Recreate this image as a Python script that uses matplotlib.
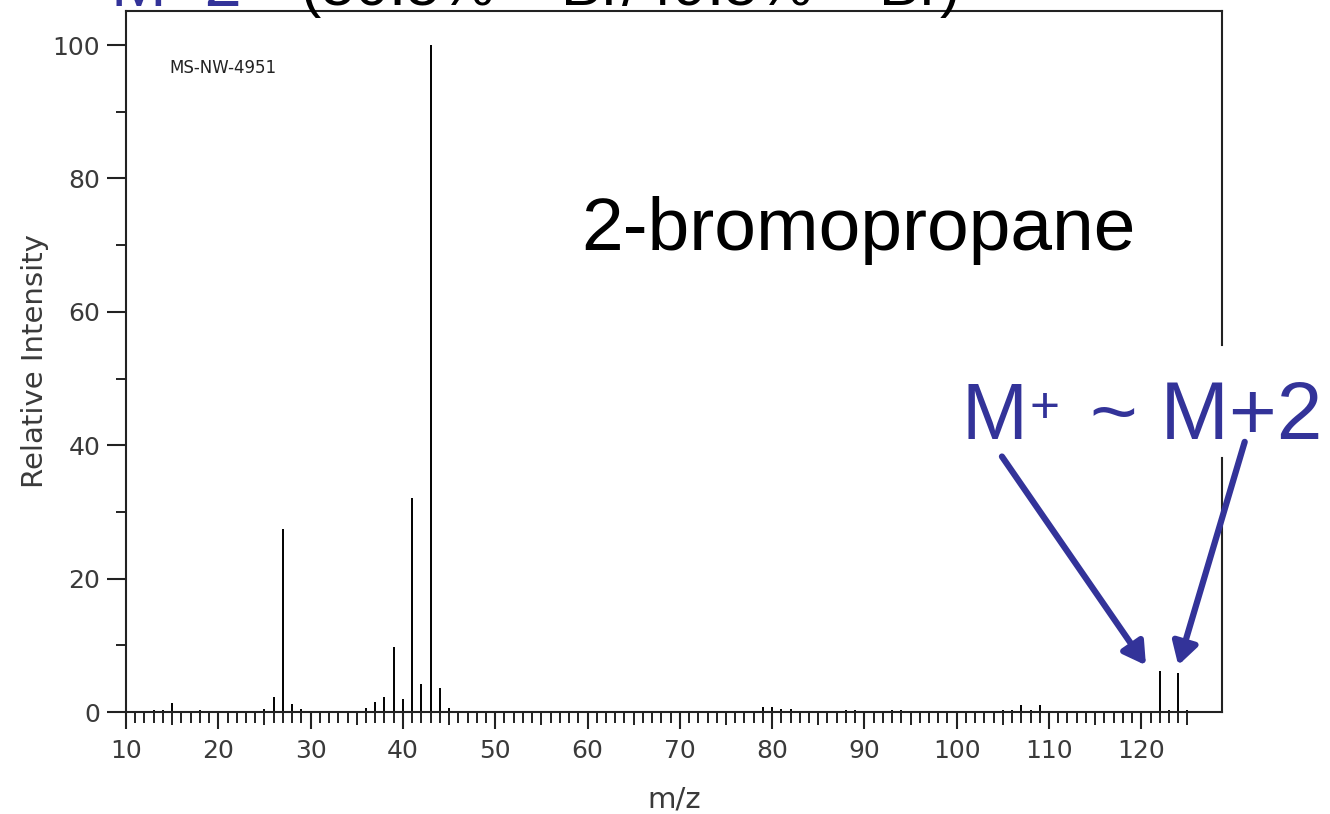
import matplotlib
matplotlib.use('Agg')
import matplotlib.pyplot as plt

plt.rcParams['mathtext.fontset'] = 'custom'
plt.rcParams['mathtext.rm'] = 'Liberation Sans'

# spectrum of 2-bromopropane (m/z, relative intensity)
mz = [13, 14, 15, 18, 25, 26, 27, 28, 29, 36, 37, 38, 39, 40, 41, 42, 43, 44, 45,
      79, 80, 81, 82, 88, 89, 93, 94, 105, 106, 107, 108, 109, 122, 123, 124, 125]
intensity = [0.3, 0.3, 1.35, 0.3, 0.4, 2.3, 27.5, 1.2, 0.4, 0.65, 1.45, 2.3, 9.8, 2.0,
             32.1, 4.2, 100, 3.65, 0.65, 0.77, 0.77, 0.46, 0.46, 0.25, 0.25, 0.25, 0.25,
             0.25, 0.25, 1.1, 0.25, 1.1, 6.1, 0.25, 5.8, 0.25]
x_ticks = list(range(10, 121, 10))
x_minor = [v for v in range(11, 126) if v % 10]
y_ticks = list(range(0, 101, 20))
y_minor = [10, 30, 50, 70, 90]

blue = '#333399'
frame = '#222222'
label_col = '#3a3a3a'
W, H = 1330, 814


def fx(px):
    return px / W


def fy(py):
    return 1 - py / H


fig = plt.figure(figsize=(13.3, 8.14), dpi=100)
ax = fig.add_axes([126 / W, 102 / H, 1096 / W, 701 / H])

ax.vlines(mz, 0, intensity, color='black', lw=1.4)

ax.set_xlim(10, 128.74)
ax.set_ylim(0, 105.1)

for s in ax.spines.values():
    s.set_color(frame)
    s.set_linewidth(1.5)
# right side of the frame is broken behind the M+ label
ax.spines['right'].set_visible(False)
ax.plot([1, 1], [0, (712 - 458) / 701], transform=ax.transAxes, color=frame,
        lw=1.5, clip_on=False, solid_capstyle='projecting')
ax.plot([1, 1], [(712 - 345) / 701, 1], transform=ax.transAxes, color=frame,
        lw=1.5, clip_on=False, solid_capstyle='projecting')

ax.set_xticks(x_ticks)
ax.set_xticks(x_minor, minor=True)
ax.set_yticks(y_ticks)
ax.set_yticks(y_minor, minor=True)

ax.tick_params(axis='x', which='major', direction='out', length=12.5, width=1.5,
               color=frame, labelsize=18, labelcolor=label_col, pad=7)
ax.tick_params(axis='x', which='minor', direction='out', length=8, width=1.4, color=frame)
ax.tick_params(axis='y', which='major', direction='out', length=13.5, width=1.5,
               color=frame, labelsize=18, labelcolor=label_col, pad=5)
ax.tick_params(axis='y', which='minor', direction='out', length=7, width=1.4, color=frame)

# a bit longer tick at every 5
for t, loc in zip(ax.xaxis.get_minor_ticks(), x_minor):
    if loc % 5 == 0:
        t.tick1line.set_markersize(9.5)

ax.set_xlabel('m/z', fontsize=21, color=label_col, labelpad=16)
ax.set_ylabel('Relative Intensity', fontsize=21, color=label_col, labelpad=3)

ax.text(0.040, 0.911, 'MS-NW-4951', transform=ax.transAxes, fontsize=12,
        color='#222222', va='baseline')

fig.text(fx(581), fy(250), '2-bromopropane', fontsize=54, family='Liberation Sans',
         color='black', va='baseline')

# M+ ~ M+2 label
fig.text(fx(961), fy(439), 'M', fontsize=57, family='Liberation Sans',
         color=blue, va='baseline')
fig.text(fx(1029), fy(423), '+', fontsize=37, family='Liberation Sans',
         color=blue, va='baseline')
fig.text(fx(1090), fy(439), '~ M+2', fontsize=59, family='Liberation Sans',
         color=blue, va='baseline')

arrow = dict(arrowstyle='-|>,head_length=0.6,head_width=0.35', lw=4.5, color=blue,
             mutation_scale=22, shrinkA=0, shrinkB=0)
ax.annotate('', xy=(120.5, 7.0), xytext=(104.9, 38.3), arrowprops=arrow,
            annotation_clip=False, zorder=6)
ax.annotate('', xy=(124.0, 7.0), xytext=(131.2, 40.5), arrowprops=arrow,
            annotation_clip=False, zorder=6)

# heading cut off at the top edge
fig.text(fx(110), fy(6), 'M+2', fontsize=48, family='Liberation Sans',
         color=blue, va='baseline')
fig.text(fx(300), fy(6), r'(50.5% $^{\mathregular{79}}$Br/49.5% $^{\mathregular{81}}$Br)',
         fontsize=44, family='Liberation Sans', color='black', va='baseline')

fig.savefig('out.png', dpi=100)
